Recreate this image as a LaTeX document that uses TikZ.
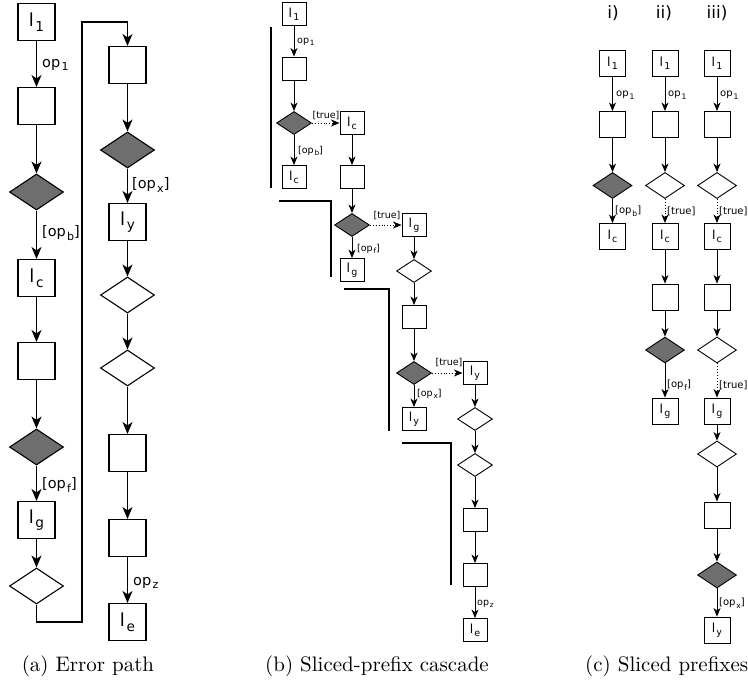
\documentclass[tikz,border=0pt]{standalone}
\usepackage{fontspec}
\newfontfamily\dv{DejaVu Sans}
\usetikzlibrary{shapes.geometric,arrows.meta}
\definecolor{dg}{RGB}{110,110,110}
\newcommand{\sbx}[1]{{\kern.09em\raisebox{-.26em}{\scalebox{.76}{#1}}}}
\begin{document}
\begin{tikzpicture}[x=1pt,y=-1pt,
  boxA/.style={draw, line width=1.1pt, minimum width=37pt, minimum height=37pt, inner sep=0pt, fill=white, font=\dv\fontsize{18}{18}\selectfont},
  diaA/.style={diamond, draw, line width=1.1pt, minimum width=54pt, minimum height=36pt, inner sep=0pt},
  grayA/.style={diaA, fill=dg}, whiteA/.style={diaA, fill=white},
  arrA/.style={-{Stealth[length=12pt,width=10pt,inset=3.5pt]}, line width=1.1pt},
  labA/.style={anchor=west, inner sep=0pt, font=\dv\fontsize{14.5}{15}\selectfont},
  boxB/.style={draw, line width=0.9pt, minimum width=24pt, minimum height=23pt, inner sep=0pt, fill=white, font=\dv\fontsize{12.5}{13}\selectfont},
  diaB/.style={diamond, draw, line width=0.9pt, minimum width=35pt, minimum height=23pt, inner sep=0pt},
  grayB/.style={diaB, fill=dg}, whiteB/.style={diaB, fill=white},
  boxC/.style={boxB, minimum width=26pt, minimum height=26pt},
  diaC/.style={diamond, draw, line width=0.9pt, minimum width=39pt, minimum height=26pt, inner sep=0pt},
  grayC/.style={diaC, fill=dg}, whiteC/.style={diaC, fill=white},
  arrB/.style={-{Stealth[length=8.5pt,width=7pt,inset=2.5pt]}, line width=0.9pt},
  dotB/.style={arrB, dotted},
  labB/.style={inner sep=0pt, font=\dv\fontsize{9.5}{10}\selectfont},
  labC/.style={anchor=west, inner sep=0pt, font=\dv\fontsize{10}{11}\selectfont},
  thickline/.style={line width=2.8pt},
  hdr/.style={font=\dv\fontsize{17}{18}\selectfont, inner sep=0pt},
  capt/.style={inner sep=0pt}
]
\useasboundingbox (0,0) rectangle (748,681);
% ---------------- (a) ----------------
\node[boxA] (a1) at (36.5,22) {l\sbx{1}};
\node[boxA] (a2) at (36.5,106) {};
\node[grayA] (a3) at (36.5,192) {};
\node[boxA] (a4) at (36.5,278) {l\sbx{c}};
\node[boxA] (a5) at (36.5,361) {};
\node[grayA] (a6) at (36.5,447) {};
\node[boxA] (a7) at (36.5,520) {l\sbx{g}};
\node[whiteA] (a8) at (36.5,586) {};
\node[boxA] (b1) at (127.5,65) {};
\node[grayA] (b2) at (127.5,150) {};
\node[boxA] (b3) at (127.5,222) {l\sbx{y}};
\node[whiteA] (b4) at (127.5,295) {};
\node[whiteA] (b5) at (127.5,368) {};
\node[boxA] (b6) at (127.5,453) {};
\node[boxA] (b7) at (127.5,538) {};
\node[boxA] (b8) at (127.5,622) {l\sbx{e}};
\draw[arrA] (a1) -- (a2);
\draw[arrA] (a2) -- (a3);
\draw[arrA] (a3) -- (a4);
\draw[arrA] (a4) -- (a5);
\draw[arrA] (a5) -- (a6);
\draw[arrA] (a6) -- (a7);
\draw[arrA] (a7) -- (a8);
\coordinate (la) at (36.5,622);
\coordinate (lb) at (82,622);
\coordinate (lc) at (82,22);
\coordinate (ld) at (127.5,22);
\draw[arrA] (a8.south) -- (la) -- (lb) -- (lc) -- (ld) -- (b1.north);
\draw[arrA] (b1) -- (b2);
\draw[arrA] (b2) -- (b3);
\draw[arrA] (b3) -- (b4);
\draw[arrA] (b4) -- (b5);
\draw[arrA] (b5) -- (b6);
\draw[arrA] (b6) -- (b7);
\draw[arrA] (b7) -- (b8);
\node[labA] (ta1) at (42,65) {op\sbx{1}};
\node[labA] (ta2) at (42,233) {[op\sbx{b}]};
\node[labA] (ta3) at (42,485) {[op\sbx{f}]};
\node[labA] (ta4) at (132,185) {[op\sbx{x}]};
\node[labA] (ta5) at (133,583) {op\sbx{z}};
% ---------------- (b) ----------------
\node[boxB] (c1) at (294,14) {l\sbx{1}};
\node[boxB] (c2) at (294,68.5) {};
\node[grayB] (c3) at (294,123) {};
\node[boxB] (c4) at (294,177) {l\sbx{c}};
\node[boxB] (d1) at (352,123) {l\sbx{c}};
\node[boxB] (d2) at (352,177) {};
\node[grayB] (d3) at (352,225) {};
\node[boxB] (d4) at (352,270) {l\sbx{g}};
\node[boxB] (e1) at (414,225) {l\sbx{g}};
\node[whiteB] (e2) at (414,271) {};
\node[boxB] (e3) at (414,317) {};
\node[grayB] (e4) at (414,373) {};
\node[boxB] (e5) at (414,419) {l\sbx{y}};
\node[boxB] (f1) at (475,373) {l\sbx{y}};
\node[whiteB] (f2) at (475,419) {};
\node[whiteB] (f3) at (475,465) {};
\node[boxB] (f4) at (475,520) {};
\node[boxB] (f5) at (475,575) {};
\node[boxB] (f6) at (475,630) {l\sbx{e}};
\draw[arrB] (c1) -- (c2);
\draw[arrB] (c2) -- (c3);
\draw[arrB] (c3) -- (c4);
\draw[dotB] (c3) -- (d1);
\draw[arrB] (d1) -- (d2);
\draw[arrB] (d2) -- (d3);
\draw[arrB] (d3) -- (d4);
\draw[dotB] (d3) -- (e1);
\draw[arrB] (e1) -- (e2);
\draw[arrB] (e2) -- (e3);
\draw[arrB] (e3) -- (e4);
\draw[arrB] (e4) -- (e5);
\draw[dotB] (e4) -- (f1);
\draw[arrB] (f1) -- (f2);
\draw[arrB] (f2) -- (f3);
\draw[arrB] (f3) -- (f4);
\draw[arrB] (f4) -- (f5);
\draw[arrB] (f5) -- (f6);
\node[labB, anchor=west] (tb1) at (297,42) {op\sbx{1}};
\node[labB] (tb2) at (326,115.5) {[true]};
\node[labB, anchor=west] (tb3) at (298,151) {[op\sbx{b}]};
\node[labB] (tb4) at (387,216) {[true]};
\node[labB, anchor=west] (tb5) at (357,249) {[op\sbx{f}]};
\node[labB] (tb6) at (449,362.5) {[true]};
\node[labB, anchor=west] (tb7) at (417,394) {[op\sbx{x}]};
\node[labB, anchor=west] (tb8) at (477,604) {op\sbx{z}};
\draw[thickline] (271,27) -- (271,188);
\draw[thickline] (279,201) -- (331,201) -- (331,277);
\draw[thickline] (344,289) -- (389,289) -- (389,431);
\draw[thickline] (402,443) -- (451,443) -- (451,585);
% ---------------- (c) ----------------
\node[hdr] (h-i) at (613,13) {i)};
\node[hdr] (h-ii) at (664,13) {ii)};
\node[hdr] (h-iii) at (717,13) {iii)};
\node[boxC] (g1) at (612.5,63.5) {l\sbx{1}};
\node[boxC] (g2) at (612.5,124.5) {};
\node[grayC] (g3) at (612.5,185.5) {};
\node[boxC] (g4) at (612.5,236.5) {l\sbx{c}};
\node[boxC] (h1) at (665,63.5) {l\sbx{1}};
\node[boxC] (h2) at (665,124.5) {};
\node[whiteC] (h3) at (665,185.5) {};
\node[boxC] (h4) at (665,236.5) {l\sbx{c}};
\node[boxC] (h5) at (665,297) {};
\node[grayC] (h6) at (665,350) {};
\node[boxC] (h7) at (665,411) {l\sbx{g}};
\node[boxC] (k1) at (717,63.5) {l\sbx{1}};
\node[boxC] (k2) at (717,124.5) {};
\node[whiteC] (k3) at (717,185.5) {};
\node[boxC] (k4) at (717,236.5) {l\sbx{c}};
\node[boxC] (k5) at (717,297) {};
\node[whiteC] (k6) at (717,350) {};
\node[boxC] (k7) at (717,411) {l\sbx{g}};
\node[whiteC] (k8) at (717,454) {};
\node[boxC] (k9) at (717,515) {};
\node[grayC] (k10) at (717,575) {};
\node[boxC] (k11) at (717,630) {l\sbx{y}};
\draw[arrB] (g1) -- (g2);
\draw[arrB] (g2) -- (g3);
\draw[arrB] (g3) -- (g4);
\draw[arrB] (h1) -- (h2);
\draw[arrB] (h2) -- (h3);
\draw[dotB] (h3) -- (h4);
\draw[arrB] (h4) -- (h5);
\draw[arrB] (h5) -- (h6);
\draw[arrB] (h6) -- (h7);
\draw[arrB] (k1) -- (k2);
\draw[arrB] (k2) -- (k3);
\draw[dotB] (k3) -- (k4);
\draw[arrB] (k4) -- (k5);
\draw[arrB] (k5) -- (k6);
\draw[dotB] (k6) -- (k7);
\draw[arrB] (k7) -- (k8);
\draw[arrB] (k8) -- (k9);
\draw[arrB] (k9) -- (k10);
\draw[arrB] (k10) -- (k11);
\node[labC] (tc1) at (616,95) {op\sbx{1}};
\node[labC] (tc2) at (668,95) {op\sbx{1}};
\node[labC] (tc3) at (720,95) {op\sbx{1}};
\node[labC] (tc4) at (615,211) {[op\sbx{b}]};
\node[labC] (tc5) at (667,211) {[true]};
\node[labC] (tc6) at (719,211) {[true]};
\node[labC] (tc7) at (667,385) {[op\sbx{f}]};
\node[labC] (tc8) at (719,385) {[true]};
\node[labC] (tc9) at (719,603) {[op\sbx{x}]};
% ---------------- captions ----------------
\node[capt] (capa) at (88,666) {\scalebox{2.1}{(a) Error path}};
\node[capt] (capb) at (377,666) {\scalebox{2.1}{(b) Sliced-prefix cascade}};
\node[capt, anchor=west] (capc) at (585,666) {\scalebox{2.1}{(c) Sliced prefixes}};
\end{tikzpicture}
\end{document}
